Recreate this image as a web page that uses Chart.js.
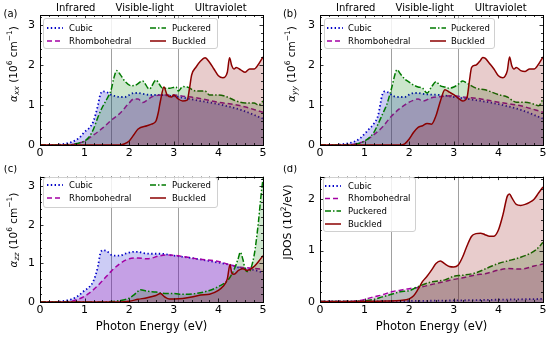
<!DOCTYPE html>
<html><head><meta charset="utf-8">
<script src="https://cdn.jsdelivr.net/npm/chart.js@4"></script>
<style>
html,body{margin:0;padding:0;background:#fff;}
body{width:550px;height:339px;position:relative;overflow:hidden;}
canvas{position:absolute;}
</style></head><body>
<canvas id="ca" width="275" height="170" style="left:0;top:0"></canvas>
<canvas id="cb" width="275" height="170" style="left:275px;top:0"></canvas>
<canvas id="cc" width="275" height="174" style="left:0;top:165px"></canvas>
<canvas id="cd" width="275" height="174" style="left:275px;top:165px"></canvas>
<script>
// ---------- data ----------
const seriesNames = ['Cubic','Rhombohedral','Puckered','Buckled'];
const regionLabels = ['Infrared','Visible-light','Ultraviolet'];
const regionCenters = [0.8, 2.35, 4.05];
const regionBounds = [1.6, 3.1];
const xTicks = [0,1,2,3,4,5];

// (a) alpha_xx
const aCubicE = [0,0.3,0.5,0.7,0.8,0.9,1.0,1.1,1.2,1.3,1.35,1.4,1.5,1.6,1.7,1.8,1.9,2.0,2.1,2.2,2.3,2.5,2.7,3.0,3.5,4.0,4.5,5.0];
const aCubicV = [0,0,0.02,0.07,0.12,0.2,0.33,0.42,0.6,1.0,1.25,1.34,1.32,1.25,1.22,1.2,1.2,1.25,1.3,1.3,1.28,1.25,1.25,1.22,1.12,1.02,0.88,0.66];
const aRhomboE = [0,0.6,0.8,1.0,1.2,1.4,1.6,1.8,2.0,2.1,2.2,2.3,2.4,2.5,2.8,3.0,3.2,3.5,4.0,4.5,5.0];
const aRhomboV = [0,0,0.03,0.1,0.25,0.42,0.62,0.8,1.05,1.15,1.15,1.06,1.12,1.2,1.25,1.25,1.22,1.18,1.07,0.98,0.82];
const aPuckE = [0,0.6,0.8,1.0,1.1,1.2,1.3,1.4,1.5,1.6,1.65,1.72,1.8,1.9,2.05,2.15,2.3,2.45,2.6,2.75,2.9,3.05,3.1,3.2,3.3,3.5,3.7,3.8,4.0,4.2,4.4,4.6,4.8,4.9,5.0];
const aPuckV = [0,0,0.03,0.1,0.2,0.4,0.7,0.95,1.15,1.4,1.65,1.86,1.76,1.6,1.48,1.5,1.6,1.4,1.62,1.42,1.42,1.45,1.35,1.46,1.45,1.35,1.35,1.25,1.25,1.2,1.1,1.05,1.05,1.0,1.1];
const aBuckE = [0,1.8,1.9,2.0,2.1,2.2,2.4,2.5,2.6,2.65,2.7,2.78,2.85,2.95,3.0,3.1,3.2,3.3,3.35,3.4,3.5,3.6,3.7,3.8,3.9,4.0,4.1,4.2,4.25,4.3,4.35,4.4,4.5,4.6,4.7,4.8,4.9,5.0];
const aBuckV = [0,0,0.03,0.1,0.25,0.4,0.48,0.52,0.6,0.8,1.1,1.45,1.25,1.2,1.25,1.15,1.1,1.12,1.4,1.75,1.95,2.1,2.18,2.07,1.9,1.73,1.68,1.82,2.18,1.98,1.9,1.94,1.88,1.82,1.9,1.9,2.02,2.2];

// (b) alpha_yy
const bCubicE = [0,0.3,0.5,0.7,0.8,0.9,1.0,1.1,1.2,1.3,1.4,1.45,1.55,1.65,1.8,1.9,2.0,2.1,2.2,2.3,2.5,2.7,3.0,3.5,4.0,4.5,5.0];
const bCubicV = [0,0,0.02,0.06,0.1,0.17,0.28,0.4,0.52,0.73,1.27,1.34,1.3,1.22,1.2,1.2,1.26,1.3,1.3,1.28,1.26,1.25,1.2,1.12,1.02,0.88,0.66];
const bRhomboE = [0,0.6,0.8,1.0,1.2,1.4,1.6,1.8,2.0,2.1,2.2,2.3,2.5,2.8,3.0,3.2,3.5,4.0,4.5,5.0];
const bRhomboV = [0,0,0.03,0.1,0.25,0.45,0.72,0.92,1.07,1.12,1.15,1.1,1.18,1.22,1.23,1.2,1.17,1.07,0.98,0.82];
const bPuckE = [0,0.6,0.8,1.0,1.2,1.3,1.4,1.5,1.6,1.73,1.8,1.9,2.0,2.1,2.2,2.3,2.4,2.5,2.6,2.7,2.8,2.9,3.0,3.1,3.2,3.3,3.5,3.7,4.0,4.2,4.4,4.6,4.8,4.9,5.0];
const bPuckV = [0,0,0.02,0.1,0.3,0.52,0.77,1.02,1.4,1.88,1.78,1.65,1.57,1.5,1.45,1.42,1.3,1.45,1.58,1.48,1.45,1.42,1.45,1.52,1.6,1.54,1.42,1.38,1.26,1.2,1.07,1.07,1.02,0.98,1.15];
const bBuckE = [0,1.8,1.9,2.0,2.1,2.2,2.3,2.4,2.5,2.6,2.7,2.8,2.9,3.0,3.1,3.2,3.25,3.3,3.35,3.4,3.5,3.6,3.65,3.7,3.8,3.9,4.0,4.1,4.15,4.2,4.25,4.3,4.35,4.4,4.5,4.6,4.7,4.8,4.9,5.0];
const bBuckV = [0,0,0.03,0.15,0.32,0.44,0.48,0.54,0.52,0.73,1.1,1.38,1.32,1.26,1.17,1.1,1.12,1.2,1.6,1.94,2.0,2.12,2.19,2.17,2.04,1.9,1.73,1.68,1.72,1.86,2.2,1.98,1.9,1.94,1.86,1.84,1.9,1.9,2.02,2.2];

// (c) alpha_zz
const cCubicE = [0,0.3,0.5,0.7,0.8,0.9,1.0,1.1,1.2,1.3,1.35,1.4,1.5,1.6,1.7,1.8,1.9,2.0,2.1,2.2,2.3,2.5,2.7,3.0,3.5,4.0,4.3,4.5,4.7,4.9,5.0];
const cCubicV = [0,0,0.02,0.07,0.12,0.2,0.3,0.38,0.55,0.93,1.25,1.34,1.32,1.22,1.2,1.2,1.25,1.28,1.3,1.3,1.27,1.25,1.25,1.2,1.12,1.02,0.95,0.88,0.85,0.8,0.75];
const cRhomboE = [0,0.6,0.8,1.0,1.2,1.4,1.6,1.8,2.0,2.2,2.4,2.7,2.9,3.2,3.5,4.0,4.3,4.5,4.7,5.0];
const cRhomboV = [0,0,0.05,0.15,0.32,0.55,0.8,1.0,1.12,1.14,1.12,1.2,1.22,1.18,1.12,1.05,0.95,0.9,0.88,0.85];
const cPuckE = [0,1.4,1.6,1.8,2.0,2.1,2.2,2.25,2.4,2.6,2.8,3.0,3.2,3.5,3.8,4.0,4.2,4.3,4.4,4.45,4.49,4.55,4.6,4.65,4.7,4.75,4.8,4.85,4.9,4.95,5.0];
const cPuckV = [0,0,0.01,0.04,0.1,0.18,0.28,0.32,0.28,0.26,0.22,0.22,0.2,0.22,0.3,0.4,0.55,0.72,0.98,1.15,1.29,1.1,0.85,0.79,0.8,0.95,1.2,1.6,2.1,2.7,3.2];
const cBuckE = [0,1.8,2.0,2.2,2.4,2.6,2.7,2.8,2.9,3.0,3.2,3.4,3.6,3.8,4.0,4.1,4.2,4.26,4.3,4.35,4.45,4.55,4.65,4.8,4.9,5.0];
const cBuckV = [0,0,0.02,0.07,0.11,0.17,0.22,0.13,0.08,0.08,0.09,0.13,0.18,0.2,0.3,0.4,0.6,0.97,0.75,0.72,0.82,0.86,0.82,0.92,1.05,1.2];

// (d) JDOS
const dCubicE = [0,1,2,3,4,5];
const dCubicV = [0.01,0.012,0.02,0.03,0.045,0.06];
const dRhomboE = [0,0.7,0.9,1.0,1.2,1.4,1.6,1.8,2.0,2.2,2.5,2.8,3.0,3.2,3.5,3.7,4.0,4.2,4.5,4.8,5.0];
const dRhomboV = [0.01,0.01,0.03,0.05,0.1,0.14,0.2,0.23,0.26,0.28,0.34,0.4,0.44,0.47,0.53,0.55,0.62,0.65,0.64,0.7,0.74];
const dPuckE = [0,0.8,1.0,1.2,1.4,1.6,1.8,2.0,2.2,2.5,2.8,3.0,3.2,3.5,3.8,4.0,4.3,4.5,4.7,4.85,5.0];
const dPuckV = [0.01,0.01,0.02,0.05,0.1,0.15,0.2,0.22,0.3,0.39,0.43,0.5,0.52,0.57,0.68,0.75,0.82,0.87,0.94,1.02,1.16];
const dBuckE = [0,1.5,1.8,2.0,2.1,2.2,2.3,2.4,2.5,2.6,2.7,2.8,2.9,3.0,3.1,3.2,3.3,3.4,3.5,3.6,3.7,3.8,3.9,4.0,4.1,4.2,4.25,4.3,4.4,4.5,4.6,4.7,4.8,4.9,5.0];
const dBuckV = [0.01,0.02,0.03,0.06,0.12,0.25,0.4,0.5,0.62,0.75,0.8,0.74,0.69,0.68,0.72,0.88,1.1,1.28,1.33,1.34,1.31,1.28,1.28,1.4,1.69,2.06,2.1,2.03,1.9,1.88,1.9,1.94,2.0,2.12,2.24];

// ---------- styles ----------
const FONT = "'DejaVu Sans', sans-serif";
const styles = [
  {color:'#0000c8', fill:'rgba(0,0,205,0.2)',   dash:[1.4,2.4], width:1.8},
  {color:'#a400a4', fill:'rgba(170,0,170,0.22)', dash:[5,3],     width:1.5},
  {color:'#007a00', fill:'rgba(0,128,0,0.2)',   dash:[6,2,1.5,2], width:1.5},
  {color:'#8b0000', fill:'rgba(139,0,0,0.2)',   dash:[],        width:1.5}
];
const zip = (E,V) => E.map((e,i)=>({x:e,y:V[i]}));

function makeDatasets(list){
  return list.map((p,i)=>({
    label: seriesNames[i],
    data: zip(p[0],p[1]),
    borderColor: styles[i].color,
    backgroundColor: styles[i].fill,
    borderDash: styles[i].dash,
    borderWidth: styles[i].width,
    fill: 'origin',
    pointRadius: 0,
    cubicInterpolationMode: 'monotone',
    order: 3 - i
  }));
}

function drawRich(ctx, parts, cx, cy, rot){
  ctx.save();
  ctx.translate(cx, cy);
  if (rot) ctx.rotate(-Math.PI/2);
  let w = 0;
  parts.forEach(p=>{ ctx.font = (p.it?'italic ':'') + p.s + 'px ' + FONT; p.w = ctx.measureText(p.t).width; w += p.w; });
  let x = -w/2;
  ctx.fillStyle = '#000';
  ctx.textBaseline = 'middle';
  ctx.textAlign = 'left';
  parts.forEach(p=>{ ctx.font = (p.it?'italic ':'') + p.s + 'px ' + FONT; ctx.fillText(p.t, x, p.dy||0); x += p.w; });
  ctx.restore();
}

const panelPlugin = {
  id: 'panel',
  beforeDatasetsDraw(chart, args, o){
    const ctx = chart.ctx, a = chart.chartArea, xs = chart.scales.x;
    ctx.save();
    ctx.strokeStyle = '#a0a0a0'; ctx.lineWidth = 1;
    regionBounds.forEach(v=>{
      const px = Math.round(xs.getPixelForValue(v)) + 0.5;
      ctx.beginPath(); ctx.moveTo(px, a.top); ctx.lineTo(px, a.bottom); ctx.stroke();
    });
    ctx.restore();
  },
  afterDraw(chart, args, o){
    const ctx = chart.ctx, a = chart.chartArea, xs = chart.scales.x, ys = chart.scales.y;
    ctx.save();
    // ticks (inward, all sides)
    ctx.strokeStyle = '#000'; ctx.lineWidth = 0.8;
    const tk = (x1,y1,x2,y2)=>{ ctx.beginPath(); ctx.moveTo(x1,y1); ctx.lineTo(x2,y2); ctx.stroke(); };
    for (let i=0;i<=25;i++){
      const v = i*0.2, px = Math.round(xs.getPixelForValue(v))+0.5;
      const L = (i%5===0)?3.5:2;
      tk(px,a.bottom,px,a.bottom-L); tk(px,a.top,px,a.top+L);
    }
    for (let i=0; i*o.yMinor <= ys.max+1e-9; i++){
      const v = i*o.yMinor, py = Math.round(ys.getPixelForValue(v))+0.5;
      const major = Math.abs(v - Math.round(v)) < 1e-6;
      const L = major?3.5:2;
      tk(a.left,py,a.left+L,py); tk(a.right,py,a.right-L,py);
    }
    // frame
    ctx.lineWidth = 1;
    ctx.strokeRect(Math.round(a.left)+0.5, Math.round(a.top)+0.5, Math.round(a.right-a.left), Math.round(a.bottom-a.top));
    // legend
    const lg = o.legend;
    ctx.fillStyle = 'rgba(255,255,255,0.85)';
    ctx.strokeStyle = '#d0d0d0'; ctx.lineWidth = 1;
    ctx.beginPath();
    if (ctx.roundRect) ctx.roundRect(lg.box[0]+0.5, lg.box[1]+0.5, lg.box[2], lg.box[3], 2.5); else ctx.rect(lg.box[0]+0.5, lg.box[1]+0.5, lg.box[2], lg.box[3]);
    ctx.fill(); ctx.stroke();
    chart.data.datasets.forEach((ds,i)=>{
      const it = lg.items[i];
      ctx.strokeStyle = ds.borderColor; ctx.lineWidth = ds.borderWidth;
      ctx.setLineDash(ds.borderDash);
      ctx.beginPath(); ctx.moveTo(it[0], it[2]); ctx.lineTo(it[0]+16, it[2]); ctx.stroke();
      ctx.setLineDash([]);
      ctx.fillStyle = '#000'; ctx.font = '8.5px ' + FONT; ctx.textBaseline='middle'; ctx.textAlign='left';
      ctx.fillText(ds.label, it[1], it[2]+0.5);
    });
    // panel tag
    ctx.fillStyle = '#000'; ctx.font = '10px ' + FONT; ctx.textAlign='center'; ctx.textBaseline='middle';
    ctx.fillText(o.tag[0], o.tag[1], o.tag[2]);
    // region labels
    if (o.regions){
      ctx.font = '10px ' + FONT; ctx.textBaseline='middle'; ctx.textAlign='center';
      regionLabels.forEach((t,i)=> ctx.fillText(t, xs.getPixelForValue(regionCenters[i]), 8));
    }
    // x title
    if (o.xTitle){
      ctx.font = '11.5px ' + FONT; ctx.textAlign='center'; ctx.textBaseline='middle';
      ctx.fillText('Photon Energy (eV)', (a.left+a.right)/2, o.xTitleY);
    }
    ctx.restore();
    drawRich(ctx, o.yTitle, o.yTitlePos[0], o.yTitlePos[1], true);
  }
};

function makePanel(id, datasets, yMax, yMinor, geom, pl){
  const c = document.getElementById(id);
  return new Chart(c, {
    type: 'line',
    data: { datasets },
    options: {
      responsive: false, animation: false, devicePixelRatio: 1,
      layout: { padding: { left: 0, right: geom.right, top: geom.top, bottom: 0 } },
      plugins: { legend: {display:false}, tooltip: {enabled:false}, panel: pl },
      scales: {
        x: { type:'linear', min:0, max:5,
             grid:{display:false, drawTicks:false}, border:{display:false},
             afterBuildTicks: s => { s.ticks = xTicks.map(v=>({value:v})); },
             afterFit: s => { s.height = geom.xh; },
             ticks:{ font:{family:FONT, size:11}, color:'#000', padding:2, maxRotation:0 } },
        y: { type:'linear', min:0, max:yMax,
             grid:{display:false, drawTicks:false}, border:{display:false},
             ticks:{ stepSize:1, includeBounds:false, font:{family:FONT, size:11}, color:'#000', padding:5 },
             afterFit: s => { s.width = geom.yw; } }
      }
    },
    plugins: [panelPlugin]
  });
}

const alphaTitle = (sub)=>[
  {t:'α', s:10.5, it:true}, {t:sub, s:7.5, it:true, dy:3},
  {t:' (10', s:10.5}, {t:'6', s:7.5, dy:-4}, {t:' cm', s:10.5}, {t:'−1', s:7.5, dy:-4}, {t:')', s:10.5}
];

makePanel('ca', makeDatasets([[aCubicE,aCubicV],[aRhomboE,aRhomboV],[aPuckE,aPuckV],[aBuckE,aBuckV]]), 3.25, 0.2,
  {right:12, top:15, xh:25, yw:40},
  {tag:['(a)',10.5,14], regions:true, yMinor:0.2, yTitle:alphaTitle('xx'), yTitlePos:[14,64],
   legend:{box:[43,18,174,30], items:[[47,69,28],[47,69,41],[150,172,28],[150,172,41]]}});

makePanel('cb', makeDatasets([[bCubicE,bCubicV],[bRhomboE,bRhomboV],[bPuckE,bPuckV],[bBuckE,bBuckV]]), 3.25, 0.2,
  {right:7, top:15, xh:25, yw:45},
  {tag:['(b)',15,14], regions:true, yMinor:0.2, yTitle:alphaTitle('yy'), yTitlePos:[17,64],
   legend:{box:[49,18,170,30], items:[[52,73,28],[52,73,41],[155,176,28],[155,176,41]]}});

makePanel('cc', makeDatasets([[cCubicE,cCubicV],[cRhomboE,cRhomboV],[cPuckE,cPuckV],[cBuckE,cBuckV]]), 3.25, 0.2,
  {right:12, top:7, xh:37, yw:40},
  {tag:['(c)',10.5,4], regions:false, yMinor:0.2, yTitle:alphaTitle('zz'), yTitlePos:[14,65],
   xTitle:true, xTitleY:162,
   legend:{box:[43,12,174,30], items:[[47,69,20],[47,69,33],[150,172,20],[150,172,33]]}});

makePanel('cd', makeDatasets([[dCubicE,dCubicV],[dRhomboE,dRhomboV],[dPuckE,dPuckV],[dBuckE,dBuckV]]), 2.44, 0.2,
  {right:7, top:7, xh:37, yw:45},
  {tag:['(d)',15,4], regions:false, yMinor:0.2,
   yTitle:[{t:'JDOS (10', s:10.8}, {t:'2', s:7.5, dy:-4}, {t:'/eV)', s:10.8}], yTitlePos:[13,57],
   xTitle:true, xTitleY:162,
   legend:{box:[48,12,92,54], items:[[50,73,21],[50,73,33.5],[50,73,46],[50,73,59]]}});
</script>
</body></html>
